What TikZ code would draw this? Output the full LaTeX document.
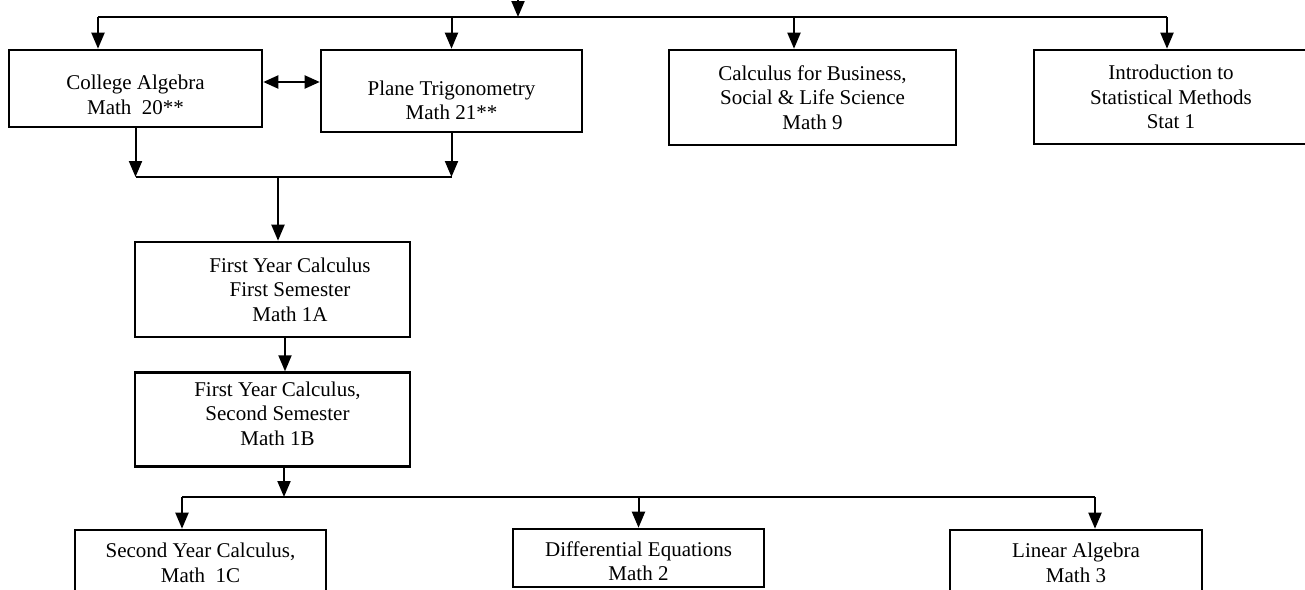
\documentclass[tikz,border=0pt]{standalone}
\usepackage{fontspec}
\setmainfont{Liberation Serif}
\usetikzlibrary{positioning, arrows.meta}

\newcommand{\indt}{\hspace*{17.5pt}}
\newcommand{\topgap}[1]{\rule{0pt}{#1}}
\newcommand{\botgap}[1]{\rule[-#1]{0pt}{#1}}

\begin{document}
\begin{tikzpicture}[
    x=0.5pt, y=-0.5pt,
    course/.style={draw, line width=1.3pt, align=center, inner sep=0pt, font=\fontsize{10.5}{12.3}\selectfont},
    arr/.style={line width=1pt, -{Triangle[length=8pt, width=6.5pt]}},
    dblarr/.style={line width=1pt, {Triangle[length=7.5pt, width=6.5pt]}-{Triangle[length=7.5pt, width=6.5pt]}},
    bar/.style={line width=0.8pt}
  ]
  \useasboundingbox (0,0) rectangle (1305,589);

  \node (ca) [course, minimum width=126.5pt, minimum height=38.5pt] at (135.5,88.5) {\topgap{13.6pt}College Algebra\\Math\ \ 20**};
  \node (pt) [course, minimum width=130.5pt, minimum height=41pt] at (451.5,91) {\topgap{16.6pt}Plane Trigonometry\\Math 21**};
  \node (cb) [course, minimum width=143.5pt, minimum height=47.5pt] at (812.5,97.5) {Calculus for Business,\\Social \& Life Science\\Math 9};
  \node (st) [course, minimum width=137pt, minimum height=47pt] at (1171,97) {Introduction to\\Statistical Methods\\Stat 1};

  \node (fya) [course, minimum width=137.5pt, minimum height=47.5pt] at (272.5,289.5) {\indt First Year Calculus\\\indt First Semester\\\indt Math 1A};
  \node (fyb) [course, minimum width=137.5pt, minimum height=47pt, below=16.5pt of fya] {\hspace*{5pt}First Year Calculus,\\\hspace*{5pt}Second Semester\\\hspace*{5pt}Math 1B\botgap{6pt}};

  \node (syc) [course, minimum width=125.5pt, minimum height=33pt] at (200.5,563) {Second Year Calculus,\\Math\ \ 1C};
  \node (de) [course, minimum width=125.5pt, minimum height=29pt] at (638.5,558) {\topgap{10.6pt}Differential Equations\\Math 2};
  \node (la) [course, minimum width=126pt, minimum height=33pt] at (1076,563) {Linear Algebra\\Math 3};

  \coordinate (top) at (518,-10);
  \coordinate (tl) at (98,17);
  \coordinate (tr) at (1167,17);
  \coordinate (cbin) at (794,17);
  \coordinate (jn) at (278,177);
  \coordinate (bn) at (284,497);
  \coordinate (bl) at (182,497);
  \coordinate (bm) at (638.5,497);
  \coordinate (br) at (1095,497);

  \draw[bar] (tl) -- (tr);
  \draw[arr] (top) -- (top |- tl);
  \draw[arr] (tl) -- (tl |- ca.north);
  \draw[arr] (pt.north |- tl) -- (pt.north);
  \draw[arr] (cbin) -- (cbin |- cb.north);
  \draw[arr] (tr) -- (tr |- st.north);

  \draw[dblarr] (ca.east |- 0,82) -- (pt.west |- 0,82);

  \draw[arr] (ca.south) -- (ca.south |- jn);
  \draw[arr] (pt.south) -- (pt.south |- jn);
  \draw[bar] (ca.south |- jn) -- (pt.south |- jn);
  \draw[arr] (jn) -- (jn |- fya.north);

  \draw[arr] ([xshift=6.25pt]fya.south) -- ([xshift=6.25pt]fyb.north);

  \draw[arr] (bn |- fyb.south) -- (bn);
  \draw[bar] (bl) -- (br);
  \draw[arr] (bl) -- (bl |- syc.north);
  \draw[arr] (bm) -- (de.north);
  \draw[arr] (br) -- (br |- la.north);

\end{tikzpicture}
\end{document}
